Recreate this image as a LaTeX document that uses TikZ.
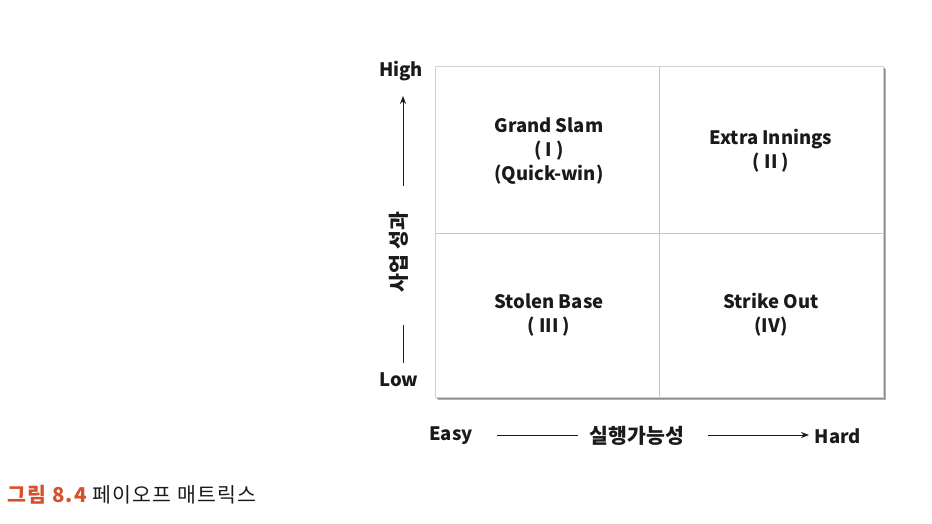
\documentclass[tikz,border=0pt]{standalone}
\usepackage{fontspec}
\setmainfont{Noto Sans CJK KR}
\usetikzlibrary{arrows.meta}
\definecolor{capred}{HTML}{D8502A}
\definecolor{txt}{HTML}{1A1A1A}
\begin{document}
\begin{tikzpicture}[x=1pt,y=-1pt,
  lbl/.style={font=\fontsize{18.5}{22}\selectfont\bfseries, text=txt, inner sep=0pt, align=center},
  klbl/.style={font=\fontsize{20.5}{22}\selectfont\bfseries, text=txt, inner sep=0pt, align=center},
  quad/.style={font=\fontsize{18.5}{24}\selectfont\bfseries, text=txt, inner sep=0pt, align=center},
  axis/.style={draw=txt, line width=0.8pt},
  tip/.style={-{Stealth[length=8pt,width=6pt]}},
  grid/.style={draw=black!22, line width=0.5pt}]
\useasboundingbox (0,0) rectangle (932,524);
% shadow
\fill[black!30] (438,69) rectangle (886,400);
\fill[black!45] (437,68) rectangle (885,399);
\fill[white] (435,66) rectangle (883,397);
\draw[black!18, line width=0.6pt] (435,66) rectangle (883,397);
\draw[grid] (659,66) -- (659,397);
\draw[grid] (435,233) -- (883,233);
% quadrant texts
\node[quad] (q1) at (549,151) {Grand Slam\\( I )\\(Quick-win)};
\node[quad] (q2) at (771,151) {Extra Innings\\( II )};
\node[quad] (q3) at (549,315) {Stolen Base\\( III )};
\node[quad] (q4) at (771,315) {Strike Out\\(IV)};
% y axis
\node[lbl] (high) at (401,71) {High};
\node[lbl] (low) at (399,380) {Low};
\node[klbl, rotate=90] (yl) at (399,252) {사업 성과};
\coordinate (ya) at (403,186);
\coordinate (yb) at (403,96);
\coordinate (yc) at (403,325);
\coordinate (yd) at (403,363);
\draw[axis, tip] (ya) -- (yb);
\draw[axis] (yc) -- (yd);
% x axis
\node[lbl] (easy) at (451,436) {Easy};
\node[klbl] (xl) at (637,436) {실행가능성};
\node[lbl] (hard) at (838,436) {Hard};
\coordinate (xa) at (497,435);
\coordinate (xb) at (578,435);
\coordinate (xc) at (708,435);
\coordinate (xd) at (809,435);
\draw[axis] (xa) -- (xb);
\draw[axis, tip] (xc) -- (xd);
% caption
\node[anchor=west, inner sep=0pt, font=\fontsize{20.5}{22}\selectfont\addfontfeature{LetterSpace=6}] (cap) at (7,495)
  {\textcolor{capred}{\bfseries 그림 8.4} \textcolor{txt}{페이오프 매트릭스}};
\end{tikzpicture}
\end{document}
